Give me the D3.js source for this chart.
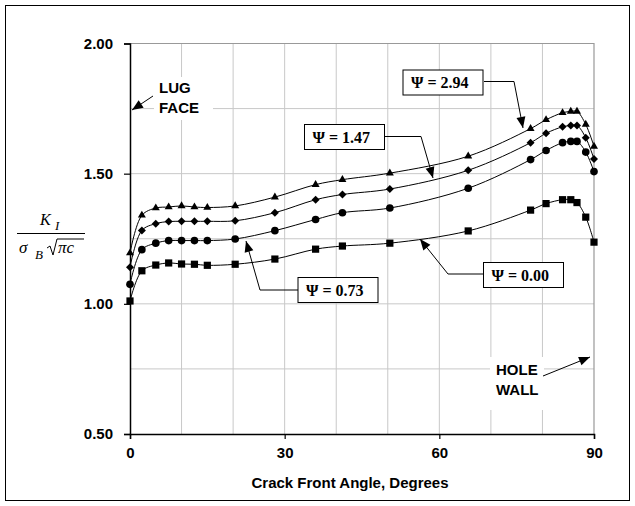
<!DOCTYPE html>
<html>
<head>
<meta charset="utf-8">
<script src="https://cdn.jsdelivr.net/npm/d3@7"></script>
<style>
  body { margin: 0; background: #fff; }
  svg { font-family: "Liberation Sans", Arial, sans-serif; }
  .serif { font-family: "Liberation Serif", "Times New Roman", serif; }
</style>
</head>
<body>
<div id="chart"></div>
<script>
// crack front angle (deg)
const angles = [0, 2.3, 5, 7.5, 10, 12.5, 15, 20.4, 28.1, 36, 41.2, 50.4, 65.6, 77.7, 80.7, 83.9, 85.5, 86.7, 88.4, 90];

// normalised stress intensity for each psi
const psi294 = [1.195, 1.340, 1.368, 1.372, 1.376, 1.372, 1.370, 1.376, 1.410, 1.458, 1.477, 1.502, 1.567, 1.673, 1.707, 1.734, 1.739, 1.739, 1.689, 1.605];
const psi147 = [1.141, 1.282, 1.308, 1.316, 1.317, 1.317, 1.317, 1.319, 1.350, 1.400, 1.420, 1.441, 1.513, 1.619, 1.655, 1.680, 1.685, 1.685, 1.638, 1.556];
const psi073 = [1.075, 1.208, 1.233, 1.243, 1.243, 1.243, 1.243, 1.249, 1.281, 1.324, 1.350, 1.368, 1.444, 1.554, 1.589, 1.619, 1.624, 1.624, 1.583, 1.508];
const psi000 = [1.011, 1.127, 1.149, 1.157, 1.153, 1.152, 1.148, 1.152, 1.172, 1.210, 1.222, 1.233, 1.280, 1.360, 1.385, 1.400, 1.400, 1.389, 1.333, 1.237];

const xTicks = [0, 30, 60, 90];
const yTicks = [0.5, 1.0, 1.5, 2.0];
const xGrid = d3.range(10, 90, 10);
const yGrid = [0.75, 1.0, 1.25, 1.5, 1.75];

const seriesList = [
  {name: "2.94", values: psi294, shape: "triangle"},
  {name: "1.47", values: psi147, shape: "diamond"},
  {name: "0.73", values: psi073, shape: "circle"},
  {name: "0.00", values: psi000, shape: "square"}
];

const W = 635, H = 506;
const margin = {top: 43.5, right: 41, bottom: 72, left: 130};

const svg = d3.select("#chart").append("svg")
  .attr("width", W).attr("height", H);

// outer frame
svg.append("rect")
  .attr("x", 5.5).attr("y", 5.5)
  .attr("width", W - 11).attr("height", H - 11)
  .attr("fill", "none").attr("stroke", "#000").attr("stroke-width", 1);

const x = d3.scaleLinear().domain([0, 90]).range([margin.left, W - margin.right]);
const y = d3.scaleLinear().domain([0.5, 2.0]).range([H - margin.bottom, margin.top]);

// gridlines
svg.append("g").selectAll("line").data(xGrid).join("line")
  .attr("x1", d => x(d)).attr("x2", d => x(d))
  .attr("y1", y(0.5)).attr("y2", y(2.0))
  .attr("stroke", "#c8c8c8").attr("stroke-width", 1);
svg.append("g").selectAll("line").data(yGrid).join("line")
  .attr("x1", x(0)).attr("x2", x(90))
  .attr("y1", d => y(d)).attr("y2", d => y(d))
  .attr("stroke", "#c8c8c8").attr("stroke-width", 1);

// top and right border of plot area
svg.append("path")
  .attr("d", `M${x(0)},${y(2)}H${x(90)}V${y(0.5)}`)
  .attr("fill", "none").attr("stroke", "#999").attr("stroke-width", 1.2);

// white boxes behind free text (they hide gridlines)
svg.append("rect").attr("x", 154).attr("y", 77).attr("width", 59).attr("height", 43).attr("fill", "#fff");
svg.append("rect").attr("x", 490).attr("y", 357).attr("width", 54).attr("height", 53).attr("fill", "#fff");

// axes
const xAxis = svg.append("g")
  .attr("transform", `translate(0,${y(0.5)})`)
  .call(d3.axisBottom(x).tickValues(xTicks).tickSize(5).tickPadding(8).tickFormat(d3.format("d")));
const yAxis = svg.append("g")
  .attr("transform", `translate(${x(0)},0)`)
  .call(d3.axisLeft(y).tickValues(yTicks).tickSize(6).tickPadding(11).tickFormat(d3.format(".2f")));

[xAxis, yAxis].forEach(g => {
  g.select(".domain").attr("stroke", "#000").attr("stroke-width", 1.5);
  g.selectAll(".tick line").attr("stroke", "#000").attr("stroke-width", 1.2);
  g.selectAll(".tick text")
    .attr("fill", "#000")
    .style("font-family", "'Liberation Sans', Arial, sans-serif")
    .style("font-size", "15px").style("font-weight", "bold");
});

svg.append("text")
  .attr("x", 350).attr("y", 488)
  .attr("text-anchor", "middle")
  .style("font-size", "15px").style("font-weight", "bold")
  .text("Crack Front Angle, Degrees");

// y axis label as a fraction
const lab = svg.append("g").attr("class", "serif").style("font-style", "italic");
lab.append("text").attr("x", 40).attr("y", 225).style("font-size", "16px").text("K");
lab.append("text").attr("x", 55).attr("y", 230).style("font-size", "13px").text("I");
lab.append("line").attr("x1", 17).attr("x2", 85).attr("y1", 233.5).attr("y2", 233.5).attr("stroke", "#000").attr("stroke-width", 1);
lab.append("text").attr("x", 19).attr("y", 253).style("font-size", "17px").text("σ");
lab.append("text").attr("x", 35).attr("y", 259).style("font-size", "13px").text("B");
lab.append("path")
  .attr("d", "M47,248 L50,246 L53,255 L57,239 L84,239")
  .attr("fill", "none").attr("stroke", "#000").attr("stroke-width", 1);
lab.append("text").attr("x", 58).attr("y", 253).style("font-size", "17px").text("πc");

// curves
const line = d3.line()
  .x((d, i) => x(angles[i]))
  .y(d => y(d))
  .curve(d3.curveCatmullRom.alpha(0.5));

const shapes = {
  triangle: "M0,-4.6L4,2.3L-4,2.3Z",
  diamond: "M0,-4L4,0L0,4L-4,0Z",
  circle: d3.symbol(d3.symbolCircle, 46)(),
  square: "M-3.6,-3.6H3.6V3.6H-3.6Z"
};

seriesList.forEach(s => {
  svg.append("path")
    .datum(s.values)
    .attr("fill", "none").attr("stroke", "#000").attr("stroke-width", 1)
    .attr("d", line);
  svg.append("g").selectAll("path").data(s.values).join("path")
    .attr("transform", (d, i) => `translate(${x(angles[i])},${y(d)})`)
    .attr("d", shapes[s.shape])
    .attr("fill", "#000");
});

// arrow helper
function arrow(pts) {
  svg.append("path")
    .attr("d", d3.line()(pts))
    .attr("fill", "none").attr("stroke", "#000").attr("stroke-width", 1);
  const [x1, y1] = pts[pts.length - 2];
  const [x2, y2] = pts[pts.length - 1];
  const a = Math.atan2(y2 - y1, x2 - x1);
  const L = 11, w = 4.5;
  const bx = x2 - L * Math.cos(a), by = y2 - L * Math.sin(a);
  const px = -Math.sin(a) * w, py = Math.cos(a) * w;
  svg.append("path")
    .attr("d", `M${x2},${y2}L${bx + px},${by + py}L${bx - px},${by - py}Z`)
    .attr("fill", "#000");
}

// free text annotations
const note = svg.append("g").style("font-size", "15px").style("font-weight", "bold");
note.append("text").attr("x", 159).attr("y", 93).text("LUG");
note.append("text").attr("x", 159).attr("y", 113).text("FACE");
arrow([[153, 96], [132, 110]]);
note.append("text").attr("x", 496).attr("y", 375).text("HOLE");
note.append("text").attr("x", 496).attr("y", 395).text("WALL");
arrow([[543, 376], [590, 357]]);

// psi labels
const boxes = [
  {name: "2.94", bx: 403, by: 70, path: [[484, 81.5], [514, 81.5], [523, 128]]},
  {name: "1.47", bx: 304.5, by: 124.5, path: [[383, 136.5], [421, 136.5], [433, 178]]},
  {name: "0.73", bx: 298, by: 277.5, path: [[298, 290], [260, 290], [246, 241]]},
  {name: "0.00", bx: 483.5, by: 262.5, path: [[483.5, 274], [448, 274], [420, 239]]}
];
boxes.forEach(b => {
  arrow(b.path);
  svg.append("rect")
    .attr("x", b.bx).attr("y", b.by).attr("width", 80).attr("height", 25)
    .attr("fill", "#fff").attr("stroke", "#000").attr("stroke-width", 1);
  svg.append("text")
    .attr("class", "serif")
    .attr("x", b.bx + 8).attr("y", b.by + 18)
    .style("font-size", "16px").style("font-weight", "bold")
    .text("Ψ = " + b.name);
});
</script>
</body>
</html>
